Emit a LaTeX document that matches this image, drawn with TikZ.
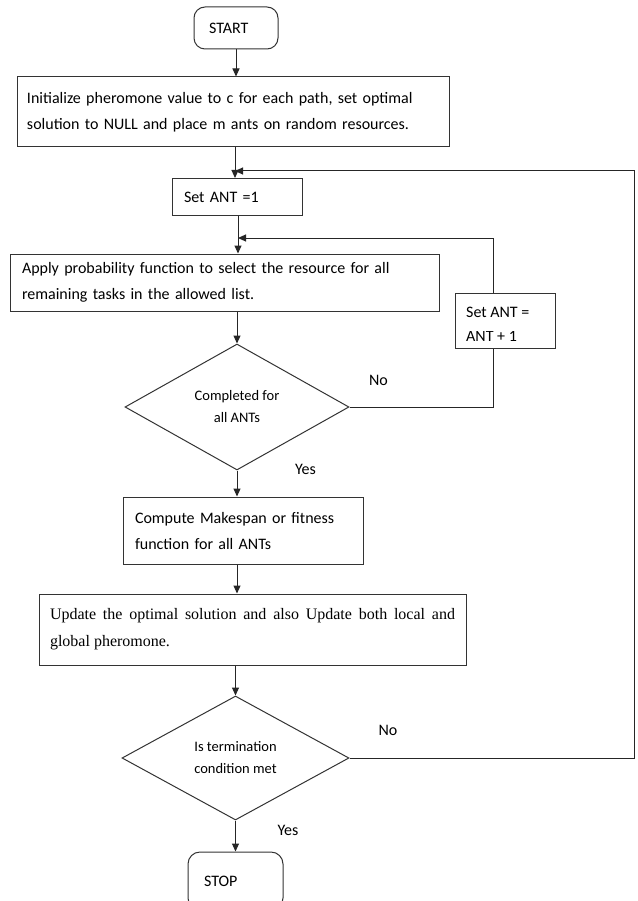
\documentclass[tikz,border=0pt]{standalone}
\usepackage{fontspec}
\setmainfont{Carlito}
\newfontfamily\timesfont{Liberation Serif}
\usetikzlibrary{shapes.geometric,arrows.meta,calc}
\begin{document}
\begin{tikzpicture}[x=1pt,y=-1pt,
  box/.style={draw=black!80, line width=1pt, rectangle, inner sep=0pt, align=left,
    font=\fontsize{16}{26}\selectfont, text=black},
  term/.style={box, rounded corners=11pt},
  dec/.style={draw=black!80, line width=1pt, diamond, inner sep=0pt, align=center,
    font=\fontsize{14.5}{22}\selectfont, text=black},
  lbl/.style={font=\fontsize{16}{19}\selectfont, inner sep=0pt, text=black},
  arr/.style={-{Triangle[length=8pt,width=7pt]}, draw=black!85, line width=1pt},
  ln/.style={draw=black!85, line width=1pt}]
\useasboundingbox (0,0) rectangle (637,901);
\clip (0,0) rectangle (637,901);
\fill[white] (0,0) rectangle (637,901);

% nodes
\node[term, minimum width=84pt, minimum height=42pt, text width=54pt] (start) at (236,28) {START};
\node[box, minimum width=432pt, minimum height=70pt, text width=412pt] (init) at (233,112)
  {Initialize pheromone value to c for each path, set optimal\\solution to NULL and place m ants on random resources.};
\node[box, minimum width=130pt, minimum height=37pt, text width=106pt] (set1) at (237,197) {Set ANT =1};
\node[box, minimum width=429pt, minimum height=57pt, text width=405pt] (apply) at (224.5,282.5)
  {Apply probability function to select the resource for all\\remaining tasks in the allowed list.};
\node[box, minimum width=100pt, minimum height=55pt] (setinc) at (505,320.5) {};
\node[lbl, anchor=base west] (setinctop) at (466,317) {Set ANT =};
\begin{scope}
  \clip (456,331.5) rectangle (554,347);
  \node[lbl, anchor=base west] (setincbot) at (466,341) {ANT + 1};
\end{scope}
\node[dec, minimum width=224pt, minimum height=126pt] (d1) at (237,407) {Completed for\\all ANTs};
\node[box, minimum width=240pt, minimum height=67pt, text width=216pt] (compute) at (243,530.5)
  {Compute Makespan or fitness\\function for all ANTs};
\node[box, align=justify, minimum width=427pt, minimum height=71pt, text width=405pt,
  font=\timesfont\fontsize{16}{27}\selectfont] (update) at (252.5,629.5)
  {Update the optimal solution and also Update both local and\linebreak global pheromone.};
\node[dec, minimum width=227pt, minimum height=124pt] (d2) at (235.5,758) {Is termination\\condition met};
\node[term, rounded corners=12pt, minimum width=95pt, minimum height=58pt, text width=63pt] (stop) at (235.5,881) {STOP};

% labels
\node[lbl] (no1) at (378.5,380) {No};
\node[lbl] (yes1) at (305.5,469) {Yes};
\node[lbl] (no2) at (388,730) {No};
\node[lbl] (yes2) at (288,830) {Yes};

% junction coordinates
\coordinate (j1) at (235,171);
\coordinate (rc) at (634,171);
\coordinate (j2) at (238,238);
\coordinate (sx) at (493,238);

% connectors
\draw[arr] (start.south) -- (start.south |- init.north);
\draw[arr] (init.south -| j1) -- (j1 |- set1.north);
\draw[arr] (set1.south -| j2) -- (j2 |- apply.north);
\draw[arr] (apply.south -| d1.north) -- (d1.north);
\draw[arr] (d1.south) -- (d1.south |- compute.north);
\draw[arr] (compute.south -| d1.south) -- (d1.south |- update.north);
\draw[arr] (update.south -| d2.north) -- (d2.north);
\draw[arr] (d2.south) -- (d2.south |- stop.north);
\draw[ln] (d1.east) -| (sx |- setinc.south);
\draw[arr] (sx |- setinc.north) |- (j2);
\draw[arr] (d2.east) -| (rc) -- (j1);
\end{tikzpicture}
\end{document}
